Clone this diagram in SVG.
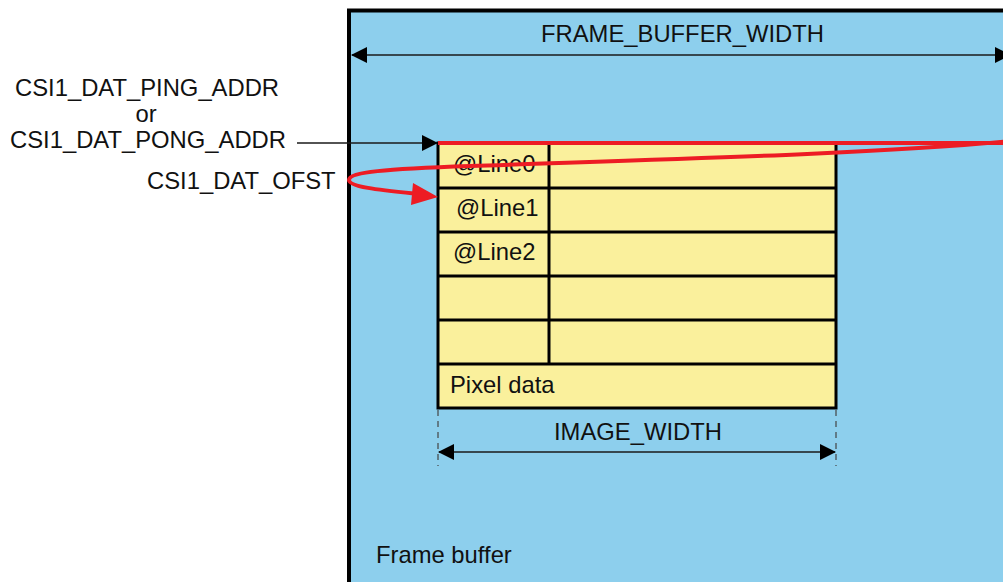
<svg xmlns="http://www.w3.org/2000/svg" width="1003" height="582" viewBox="0 0 1003 582">
<defs>
<style>
text{font-family:"Liberation Sans",Arial,sans-serif;font-size:23.8px;fill:#111}
.cell{fill:#FAF09C;stroke:#000;stroke-width:3}
.grid{stroke:#000;stroke-width:3;fill:none}
.dim{stroke:#1a1a1a;stroke-width:1.3;fill:none}
.dash{stroke:#444;stroke-width:1.2;stroke-dasharray:6 5;fill:none}
.red{stroke:#ED1C24;stroke-width:4;fill:none}
</style>
<marker id="ah" markerUnits="userSpaceOnUse" markerWidth="16" markerHeight="16" viewBox="0 0 16 16" refX="15" refY="8" orient="auto-start-reverse">
<path d="M0,0 L16,8 L0,16 z" fill="#000"/>
</marker>
</defs>
<rect width="1003" height="582" fill="#fff"/>
<g id="frame-buffer">
<rect x="349" y="10.5" width="680" height="600" fill="#8DCFED" stroke="#000" stroke-width="4"/>
<text x="376" y="563">Frame buffer</text>
<text x="541" y="42">FRAME_BUFFER_WIDTH</text>
</g>
<g id="image">
<rect class="cell" x="438" y="143" width="398" height="265"/>
<path class="grid" d="M438,188H836M438,232H836M438,276H836M438,320H836M438,364H836M549,143V364"/>
<text x="453" y="172">@Line0</text>
<text x="456" y="216">@Line1</text>
<text x="453" y="260">@Line2</text>
<text x="450" y="393">Pixel data</text>
<text x="554" y="440">IMAGE_WIDTH</text>
</g>
<g id="labels">
<text x="15" y="96">CSI1_DAT_PING_ADDR</text>
<text x="146" y="122" text-anchor="middle">or</text>
<text x="10" y="148">CSI1_DAT_PONG_ADDR</text>
<text x="147" y="189">CSI1_DAT_OFST</text>
</g>
<g id="connectors">
<path class="dim" d="M352,55H1010" marker-start="url(#ah)" marker-end="url(#ah)"/>
<path class="dash" d="M438,410V466M836,410V466"/>
<path class="dim" d="M439,452H835" marker-start="url(#ah)" marker-end="url(#ah)"/>
<path class="dim" d="M297,143H437" marker-end="url(#ah)"/>
<path class="red" d="M438,143H1010"/>
<path class="red" d="M1012,141 C880,154 640,160 470,166 C385,169 349,172 349,180 C349,187 380,190 418,194"/>
<polygon points="438,197 413,183 411,205" fill="#ED1C24"/>
</g>
</svg>
